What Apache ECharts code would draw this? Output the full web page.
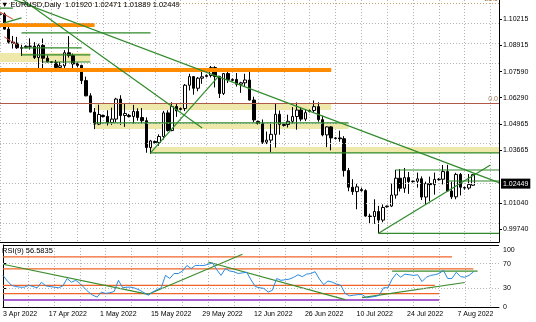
<!DOCTYPE html>
<html><head><meta charset="utf-8">
<script src="https://cdn.jsdelivr.net/npm/echarts@6/dist/echarts.min.js"></script>
<style>html,body{margin:0;padding:0;background:#fff}#c{width:536px;height:322px}</style>
</head><body><div id="c"></div>
<script>
// ---------- DATA ----------
const startDate = '2022-04-03';
const barCount = 117; // trading days incl. Sunday bars + empty right margin
const months = ['Jan','Feb','Mar','Apr','May','Jun','Jul','Aug','Sep','Oct','Nov','Dec'];

const opens = [1.1045,1.1046,1.0971,1.0906,1.0901,1.0878, 1.0880,1.0885,1.0886,1.0829,1.0890,1.0826, 1.0808,1.0805,1.0780,1.0788,1.0853,1.0839, 1.0800,1.0790,1.0714,1.0638,1.0557,1.0497, 1.0540,1.0535,1.0505,1.0522,1.0622,1.0540, 1.0540,1.0535,1.0560,1.0530,1.0514,1.0380, 1.0410,1.0405,1.0435,1.0553,1.0465,1.0585, 1.0570,1.0575,1.0691,1.0734,1.0676,1.0726, 1.0735,1.0740,1.0779,1.0734,1.0650,1.0749, 1.0715,1.0720,1.0696,1.0703,1.0717,1.0617, 1.0510,1.0500,1.0407,1.0417,1.0446,1.0546, 1.0490,1.0495,1.0511,1.0535,1.0567,1.0522, 1.0560,1.0565,1.0584,1.0519,1.0443,1.0483, 1.0425,1.0428,1.0424,1.0265,1.0182,1.0160, 1.0170,1.0165,1.0038,1.0036,1.0061,1.0018, 1.0085,1.0088,1.0143,1.0227,1.0177,1.0230, 1.0210,1.0212,1.0224,1.0133,1.0200,1.0195, 1.0220,1.0222,1.0260,1.0163,1.0134,1.0246, 1.0180,1.0178,1.0192];
const highs = [1.1050,1.1054,1.0993,1.0937,1.0932,1.0893, 1.0890,1.0925,1.0906,1.0898,1.0924,1.0840, 1.0812,1.0817,1.0807,1.0866,1.0936,1.0849, 1.0805,1.0793,1.0734,1.0651,1.0577,1.0594, 1.0545,1.0566,1.0579,1.0628,1.0641,1.0600, 1.0548,1.0593,1.0576,1.0577,1.0531,1.0418, 1.0415,1.0446,1.0563,1.0566,1.0606,1.0597, 1.0580,1.0697,1.0748,1.0737,1.0732,1.0765, 1.0745,1.0787,1.0786,1.0737,1.0750,1.0765, 1.0725,1.0752,1.0708,1.0748,1.0774,1.0634, 1.0515,1.0520,1.0460,1.0506,1.0601,1.0565, 1.0500,1.0544,1.0582,1.0605,1.0579,1.0570, 1.0570,1.0615,1.0606,1.0539,1.0486,1.0487, 1.0432,1.0464,1.0437,1.0278,1.0222,1.0199, 1.0180,1.0172,1.0050,1.0122,1.0089,1.0096, 1.0090,1.0200,1.0269,1.0273,1.0278,1.0258, 1.0215,1.0255,1.0236,1.0210,1.0235,1.0255, 1.0228,1.0293,1.0294,1.0210,1.0254,1.0253, 1.0185,1.0248,1.02471];
const lows = [1.1040,1.0968,1.0899,1.0874,1.0872,1.0837, 1.0875,1.0869,1.0822,1.0757,1.0772,1.0804, 1.0795,1.0760,1.0758,1.0772,1.0829,1.0770, 1.0780,1.0697,1.0636,1.0555,1.0472,1.0492, 1.0530,1.0490,1.0493,1.0505,1.0493,1.0483, 1.0530,1.0500,1.0514,1.0498,1.0354,1.0349, 1.0400,1.0389,1.0420,1.0460,1.0461,1.0533, 1.0565,1.0562,1.0665,1.0644,1.0661,1.0698, 1.0730,1.0730,1.0680,1.0627,1.0642,1.0702, 1.0712,1.0684,1.0653,1.0686,1.0615,1.0506, 1.0495,1.0398,1.0397,1.0358,1.0380,1.0444, 1.0485,1.0480,1.0500,1.0469,1.0511,1.0512, 1.0555,1.0554,1.0509,1.0436,1.0382,1.0366, 1.0420,1.0409,1.0235,1.0162,1.0144,1.0072, 1.0160,1.0035,0.9998,0.9999,0.9952,1.0007, 1.0080,1.0083,1.0125,1.0161,1.0154,1.0149, 1.0205,1.0180,1.0118,1.0097,1.0112,1.0145, 1.0215,1.0196,1.0160,1.0123,1.0122,1.0141, 1.0170,1.0170,1.01889];
const closes = [1.1046,1.0971,1.0906,1.0901,1.0878,1.0876, 1.0885,1.0886,1.0829,1.0890,1.0826,1.0808, 1.0805,1.0780,1.0788,1.0853,1.0839,1.0797, 1.0790,1.0714,1.0638,1.0557,1.0497,1.0545, 1.0535,1.0505,1.0522,1.0622,1.0540,1.0550, 1.0535,1.0560,1.0530,1.0514,1.0380,1.0413, 1.0405,1.0435,1.0553,1.0465,1.0585,1.0563, 1.0575,1.0691,1.0734,1.0676,1.0726,1.0733, 1.0740,1.0779,1.0734,1.0650,1.0749,1.0719, 1.0720,1.0696,1.0703,1.0717,1.0617,1.0518, 1.0500,1.0407,1.0417,1.0446,1.0546,1.0496, 1.0495,1.0511,1.0535,1.0567,1.0522,1.0554, 1.0565,1.0584,1.0519,1.0443,1.0483,1.0428, 1.0428,1.0424,1.0265,1.0182,1.0160,1.0184, 1.0165,1.0038,1.0036,1.0061,1.0018,1.0081, 1.0088,1.0143,1.0227,1.0177,1.0230,1.0210, 1.0212,1.0224,1.0133,1.0200,1.0195,1.0221, 1.0222,1.0260,1.0163,1.0134,1.0246,1.0182, 1.0178,1.0196,1.02449];
const rsiValues = [51,42,35,33,32,32, 35,33,31,40,34,33, 32,31,34,46,40,43, 38,31,24,19,16,24, 22,23,25,43,31,32, 32,30,27,23,19,24, 28,31,51,46,54,54, 58,67,62,67,67,67, 69,71,60,51,62,58, 57,54,55,56,44,33, 31,30,24,27,46,43, 44,45,48,52,49,53, 54,57,45,36,42,40, 37,35,22,18,19,20, 20,15,16,17,19,31, 31,45,54,48,53,52, 51,52,41,48,51,52, 54,59,46,46,56,49, 48,51,56.58];

const priceTicks = [1.10215,1.08915,1.07590,1.06290,1.04965,1.03665,1.01040,0.99740];
const priceGrid = [1.10215,1.08915,1.07590,1.06290,1.04965,1.03665,1.02365,1.01040,0.99740];
const lastPrice = 1.02449;
const rsiTicks = [0,30,70,100];
const rsiGrid = [30,70];
const fibLevels = [{v:1.0637, t:'0.0'}, {v:1.1093, t:'23.6'}];
const titleText = 'EURUSD,Daily  1.01920 1.02471 1.01889 1.02449';
const rsiTitle = 'RSI(9) 56.5835';
// date-label anchors on the time scale (bar index where each label text starts)
const dateLabelBars = [0, 10.7, 22.7, 34.6, 46.6, 58.7, 70.6, 82.7, 94.5, 106.3];
const dateLabelTexts = ['3 Apr 2022','17 Apr 2022','1 May 2022','15 May 2022','29 May 2022','12 Jun 2022','26 Jun 2022','10 Jul 2022','24 Jul 2022','7 Aug 2022'];

// drawn objects: [barIndex0, price0, barIndex1, price1]
const greenLines = [
  [3,1.1120,116,1.0205],[5,1.1122,47,1.0478],[35,1.0353,51,1.0740],[88,0.9952,114,1.0293],
  [5,1.0952,35,1.0952],[0,1.1076,3,1.1076],[5,1.0877,19,1.0877],[5,1.0842,21,1.0842],
  [10,1.0807,21,1.0807],[22,1.0503,81,1.0503],[35,1.0353,116,1.0353],[92,1.0268,116,1.0268],
  [104,1.0213,116,1.0213],[88,0.9952,116,0.9952],[1,1.1002,5,1.1027]
];
const orangeLines = [[0,1.0992,22,1.0992],[0,1.0767,77,1.0767]];
const redLines = [[0,1.1056,3,1.1021],[1,1.0932,4,1.0892]];
const yellowBands = [[0,1.0852,21,1.0807],[22,1.0597,77,1.0567],[22,1.0498,81,1.0473],[35,1.0383,116,1.0353]];
// RSI objects: [barIndex0, rsi0, barIndex1, rsi1]
const rsiOrange = [[0,81,105,81],[0,61.5,110,61.5],[0,35,101,35],[0,21.5,102,21.5]];
const rsiPurple = [[0,11.3,102,11.3]];
const rsiGreen = [[0,69,34,20.5],[34,20.5,56,85],[48,72.6,80,12],[84,15,108,39.5],[91,58,111,58]];

// ---------- BUILD ----------
const categories = [];
(function(){
  let d = new Date(startDate + 'T00:00:00Z');
  while (categories.length < barCount) {
    if (d.getUTCDay() !== 6) categories.push(d.getUTCDate() + ' ' + months[d.getUTCMonth()] + ' ' + d.getUTCFullYear());
    d = new Date(d.getTime() + 86400000);
  }
})();
const candleData = opens.map((o,i)=>[o, closes[i], lows[i], highs[i]]);
const FONT = 'Liberation Sans';
const GRIDC = '#b4b4b4';
const labelMap = {};
dateLabelBars.forEach((b,i)=>{ labelMap[b.toFixed(2)] = dateLabelTexts[i]; });

function seg(s, xi, yi, color, width, z) {
  return {type:'line', xAxisIndex:xi, yAxisIndex:yi, data:[[s[0],s[1]],[s[2],s[3]]],
    symbol:'none', silent:true, animation:false, z:z,
    lineStyle:{color:color, width:width}};
}

const series = [];
series.push({
  type:'line', xAxisIndex:0, yAxisIndex:0, data:[], z:1, silent:true, animation:false,
  markArea:{silent:true, itemStyle:{color:'#eee8aa'},
    data: yellowBands.map(b=>[{coord:[b[0],b[1]]},{coord:[b[2],b[3]]}])},
  markLine:{silent:true, symbol:'none', animation:false,
    data: priceGrid.map(v=>({yAxis:v, lineStyle:{color:GRIDC, type:[1,2], width:1}, label:{show:false}}))
      .concat(fibLevels.map((f,i)=>({yAxis:f.v,
        lineStyle: i===0 ? {color:'#b25a4a', type:'solid', width:1.2} : {color:'#c8a070', type:[1,2], width:1},
        label:{show:true, position:'insideEndTop', formatter:f.t, color:'#a07850', fontSize:7, fontFamily:FONT, distance:1}})))
  }
});
series.push({
  type:'candlestick', xAxisIndex:0, yAxisIndex:0, data:candleData, barWidth:3, z:3,
  animation:false, silent:true, clip:false,
  itemStyle:{color:'#ffffff', color0:'#000000', borderColor:'#000000', borderColor0:'#000000', borderWidth:1},
  markLine:{silent:true, symbol:'none', animation:false,
    data:[{yAxis:lastPrice, lineStyle:{color:'rgba(0,0,0,0)', width:0}, label:{show:true, position:'end',
      formatter:lastPrice.toFixed(5), backgroundColor:'#000', color:'#fff', fontSize:7, fontFamily:FONT,
      padding:[2,2,1,2], distance:2}}]}
});
orangeLines.forEach(s=>series.push(seg(s,0,0,'#ff8c00',4,4)));
redLines.forEach(s=>series.push(seg(s,0,0,'#d04030',1,5)));
greenLines.forEach(s=>series.push(seg(s,0,0,'#2f8a2a',1.2,5)));

series.push({
  type:'line', xAxisIndex:1, yAxisIndex:1, data:[], z:1, silent:true, animation:false,
  markLine:{silent:true, symbol:'none', animation:false,
    data: rsiGrid.map(v=>({yAxis:v, lineStyle:{color:GRIDC, type:[1,2], width:1}, label:{show:false}}))
      .concat([{yAxis:100, lineStyle:{color:'#000', type:'solid', width:1}, label:{show:false}}])}
});
rsiOrange.forEach(s=>series.push(seg(s,1,1,'#f0642a',1.2,3)));
rsiPurple.forEach(s=>series.push(seg(s,1,1,'#8a2bc0',1.5,3)));
rsiGreen.forEach(s=>series.push(seg(s,1,1,'#3a8c2a',1.2,4)));
series.push({type:'line', xAxisIndex:1, yAxisIndex:1, data:rsiValues, symbol:'none', z:5,
  animation:false, silent:true, lineStyle:{color:'#2a8ae0', width:1}});

const splitFn = (i)=> i % 6 === 0;

const option = {
  animation:false,
  backgroundColor:'#ffffff',
  textStyle:{fontFamily:FONT},
  title:[
    {text:'▼ ' + titleText, left:1, top:1, padding:0,
      textStyle:{fontSize:7.5, fontWeight:'normal', color:'#000', fontFamily:FONT}},
    {text:rsiTitle, left:2, top:247, padding:0,
      textStyle:{fontSize:7.5, fontWeight:'normal', color:'#000', fontFamily:FONT}}
  ],
  grid:[
    {left:0, top:0, width:499, height:242},
    {left:0, top:245, width:499, height:62}
  ],
  xAxis:[
    {type:'category', gridIndex:0, data:categories, boundaryGap:false,
      axisLine:{show:true, lineStyle:{color:'#000', width:1}}, axisTick:{show:false}, axisLabel:{show:false},
      splitLine:{show:true, interval:splitFn, lineStyle:{color:GRIDC, type:[1,2], width:1}}},
    {type:'category', gridIndex:1, data:categories, boundaryGap:false,
      axisLine:{show:true, lineStyle:{color:'#000', width:1}}, axisTick:{show:false}, axisLabel:{show:false},
      splitLine:{show:true, interval:splitFn, lineStyle:{color:GRIDC, type:[1,2], width:1}}},
    {type:'value', gridIndex:1, min:0, max:barCount-1, position:'bottom',
      axisLine:{show:false}, axisTick:{show:false}, splitLine:{show:false},
      axisLabel:{show:true, customValues:dateLabelBars, align:'left', margin:4,
        formatter:(v)=> labelMap[Number(v).toFixed(2)] || '',
        fontSize:7, color:'#000', fontFamily:FONT}}
  ],
  yAxis:[
    {type:'value', gridIndex:0, position:'right', min:0.99087, max:1.11163, scale:true,
      axisLine:{show:true, lineStyle:{color:'#000', width:1}},
      axisTick:{show:true, length:3, customValues:priceTicks, lineStyle:{color:'#000'}},
      axisLabel:{show:true, customValues:priceTicks, formatter:(v)=>v.toFixed(5), margin:4,
        fontSize:7, color:'#000', fontFamily:FONT},
      splitLine:{show:false}},
    {type:'value', gridIndex:1, position:'right', min:0, max:100,
      axisLine:{show:true, lineStyle:{color:'#000', width:1}},
      axisTick:{show:true, length:3, customValues:rsiTicks, lineStyle:{color:'#000'}},
      axisLabel:{show:true, customValues:rsiTicks, margin:4, fontSize:7, color:'#000', fontFamily:FONT,
        formatter:(v)=> v===100 ? '{t|100}' : String(v),
        rich:{t:{fontSize:7, color:'#000', fontFamily:FONT, padding:[10,0,0,0]}}},
      splitLine:{show:false}}
  ],
  series: series
};
const chart = echarts.init(document.getElementById('c'), null, {renderer:'canvas'});
chart.setOption(option);
</script>
</body></html>
